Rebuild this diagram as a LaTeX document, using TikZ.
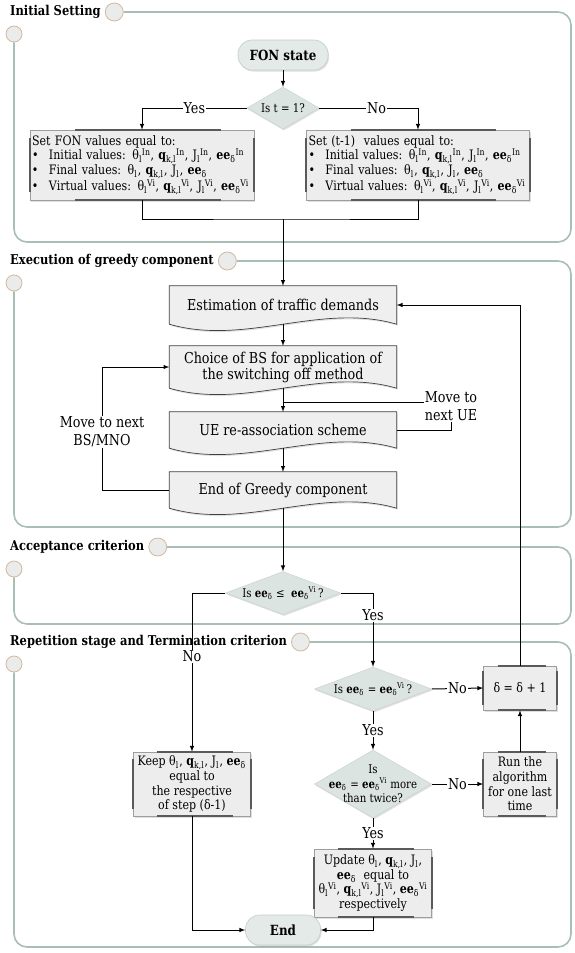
\documentclass[tikz,border=0pt]{standalone}
\usepackage{fontspec}
\setmainfont{DejaVu Serif}[FakeStretch=0.85]
\usepackage{tikz}
\tikzset{>=latex}
\usetikzlibrary{shapes.geometric,shadows,calc}

\definecolor{frameC}{HTML}{A9BFB6}
\definecolor{ringFill}{HTML}{E9ECEB}
\definecolor{ringEdge}{HTML}{D4B89E}
\definecolor{pillFill}{HTML}{E3EAE7}
\definecolor{pillEdge}{HTML}{C2CEC9}
\definecolor{diaFill}{HTML}{DCE4E1}
\definecolor{diaEdge}{HTML}{C9D3CF}
\definecolor{procFill}{HTML}{EDEDED}
\definecolor{procEdge}{HTML}{9E9E9E}
\definecolor{procBar}{HTML}{5A5A5A}
\definecolor{docFill}{HTML}{EFEFEF}
\definecolor{docEdge}{HTML}{404040}

\pgfdeclarelayer{background}
\pgfsetlayers{background,main}

\tikzset{
  softshadow/.style={drop shadow={opacity=.25,shadow xshift=1pt,shadow yshift=-1.5pt}},
  stagetitle/.style={font=\fontsize{13.5}{15}\selectfont\bfseries, inner sep=0pt},
  ring/.style={circle, draw=ringEdge, fill=ringFill, line width=.8pt, inner sep=0pt},
  frameline/.style={draw=frameC, line width=1.6pt},
  pill/.style={rectangle, rounded corners=14pt, draw=pillEdge, fill=pillFill, line width=.6pt,
    softshadow, minimum height=30pt, font=\fontsize{14}{16}\selectfont\bfseries},
  decision/.style={diamond, draw=diaEdge, fill=diaFill, line width=.5pt, inner sep=0pt, softshadow},
  diatxt/.style={font=\fontsize{12}{14.5}\selectfont, align=center, inner sep=0pt},
  procbox/.style={rectangle, draw=procEdge, fill=procFill, line width=.6pt, softshadow,
    align=center, inner sep=2pt, font=\fontsize{13}{14.7}\selectfont},
  setbox/.style={procbox, align=left, text width=220pt, minimum height=70pt,
    font=\fontsize{13}{13.4}\selectfont},
  procbar/.style={draw=procBar, line width=2pt},
  docbox/.style={rectangle, minimum width=227pt, align=center, inner sep=0pt,
    font=\fontsize{15}{16}\selectfont},
  docline/.style={draw=docEdge, fill=docFill, line width=.7pt, softshadow},
  flow/.style={line width=1pt},
  lbl/.style={font=\fontsize{15}{18}\selectfont, fill=white, inner sep=1pt},
  move/.style={font=\fontsize{15}{18}\selectfont, align=center, inner sep=1pt}
}

\begin{document}
\begin{tikzpicture}[x=1pt,y=-1pt]
  \useasboundingbox (0,0) rectangle (574,953);

  % help functions
  \def\thl#1{θ\textsubscript{l}\textsuperscript{#1}}
  \def\qkl#1{\textbf{q}\textsubscript{k,l}\textsuperscript{#1}}
  \def\Jl#1{J\textsubscript{l}\textsuperscript{#1}}
  \def\eed#1{\textbf{ee}\textsubscript{δ}\textsuperscript{#1}}
  \def\bul{\makebox[17pt][l]{\textbullet}}

        % Stage frame with title, two rings and rounded border
  \def\stageFrame(#1,#2,#3,#4){
    \node[stagetitle, anchor=west] (#1) at (10,#3) {#2};
    \node[ring, minimum size=18pt, anchor=west] (#1ring) at ([xshift=4pt]#1.east) {};
    \node[ring, minimum size=16pt] (#1dot) at (14,#3+22) {};
    \draw[frameline, rounded corners=13pt] (#1ring.east) -- (571,#3) -- (571,#4) -- (14,#4) -- (#1dot.south);
  }
        % Wavy document outline behind a node
  \def\docOutline(#1){
    \begin{pgfonlayer}{background}
      \filldraw[docline] (#1.south west) -- (#1.north west) -- (#1.north east) -- (#1.south east)
        .. controls +(-76,-22) and +(76,22) .. (#1.south west) -- cycle;
    \end{pgfonlayer}
  }
        % Dark bars on the edges of a process box
  \def\procBars(#1){
    \draw[procbar] ($(#1.north west)!.2!(#1.north east)$) -- ($(#1.north west)!.85!(#1.north east)$)
                   ($(#1.south west)!.2!(#1.south east)$) -- ($(#1.south west)!.85!(#1.south east)$)
                   ($(#1.north west)!.12!(#1.south west)$) -- ($(#1.north west)!.88!(#1.south west)$)
                   ($(#1.north east)!.12!(#1.south east)$) -- ($(#1.north east)!.88!(#1.south east)$);
  }

  % STAGES
    \stageFrame(init,Initial Setting,12,242)
    \stageFrame(greedy,Execution of greedy component,261,527)
    \stageFrame(accept,Acceptance criterion,547,624)
    \stageFrame(repeat,Repetition stage and Termination criterion,642,947)

  % INITIAL SETTING
    \node[pill, minimum width=90pt] (fon) at (283,55) {FON state};
    \node[decision, minimum width=72pt, minimum height=42pt,
      label={[diatxt]center:Is t = 1?}] (isT) at (283,108) {};
    \node[setbox] (setA) at (142,165) {Set FON values equal to:\\
      \bul Initial values: \thl{In}, \qkl{In}, \Jl{In}, \eed{In}\\
      \bul Final values: \thl{}, \qkl{}, \Jl{}, \eed{}\\
      \bul Virtual values: \thl{Vi}, \qkl{Vi}, \Jl{Vi}, \eed{Vi}};
    \node[setbox, text width=219pt] (setB) at (418,165) {Set (t-1)\ \ values equal to:\\
      \bul Initial values: \thl{In}, \qkl{In}, \Jl{In}, \eed{In}\\
      \bul Final values: \thl{}, \qkl{}, \Jl{}, \eed{}\\
      \bul Virtual values: \thl{Vi}, \qkl{Vi}, \Jl{Vi}, \eed{Vi}};
    \procBars(setA)
    \procBars(setB)
    \coordinate (merge) at (283,219);

    \draw[->,flow] (fon.south) -- (isT.north);
    \draw[->,flow] (isT.west) -| (setA.north) node[lbl,pos=.25] {Yes};
    \draw[->,flow] (isT.east) -| (setB.north) node[lbl,pos=.29] {No};
    \draw[flow] (setA.south) |- (merge) -| (setB.south);

  % GREEDY COMPONENT
    \node[docbox, minimum height=38pt] (est) at (283,305) {Estimation of traffic demands};
    \node[docbox, minimum height=42pt] (choice) at (283,367) {Choice of BS for application of\\the switching off method};
    \node[docbox, minimum height=36pt] (ue) at (283,430) {UE re-association scheme};
    \node[docbox, minimum height=36pt] (eog) at (283,490) {End of Greedy component};
    \docOutline(est)
    \docOutline(choice)
    \docOutline(ue)
    \docOutline(eog)
    \node[move] (mvUE) at (451,406) {Move to\\next UE};
    \node[move] (mvBS) at (102,432) {Move to next\\BS/MNO};
    \coordinate (ueIn) at ([yshift=4pt]mvUE.west);

    \draw[->,flow] (merge) -- (est.north);
    \draw[->,flow] (est.south) -- (choice.north);
    \draw[->,flow] (choice.south) -- (ue.north);
    \draw[->,flow] (ue.south) -- (eog.north);
    \draw[flow] (ue.east) -| (mvUE.south);
    \draw[flow] (ueIn) -- (ueIn -| ue.north);
    \draw[flow] (eog.west) -| (mvBS.south);
    \draw[->,flow] (mvBS.north) |- (choice.west);

  % ACCEPTANCE
    \node[decision, minimum width=115pt, minimum height=43pt,
      label={[diatxt]center:Is \eed{} ≤\ \ \eed{Vi}\,?}] (isLe) at (283,593) {};
    \draw[->,flow] (eog.south) -- (isLe.north);

  % REPETITION AND TERMINATION
    \node[decision, minimum width=117pt, minimum height=44pt,
      label={[diatxt]center:Is \eed{} = \eed{Vi}\,?}] (isEq) at (373,689) {};
    \node[procbox, minimum width=73pt, minimum height=44pt] (delta) at (520,688) {δ = δ + 1};
    \node[decision, minimum width=117pt, minimum height=68pt,
      label={[diatxt]center:Is\\\eed{} = \eed{Vi} more\\than twice?}] (isTw) at (373,784) {};
    \node[procbox, minimum width=73pt, minimum height=64pt] (runN) at (520,784) {Run the\\algorithm\\for one last\\time};
    \node[procbox, minimum width=117pt, minimum height=64pt] (keep) at (192,784) {Keep \thl{}, \qkl{}, \Jl{}, \eed{}\\equal to\\the respective\\of step (δ-1)};
    \node[procbox, minimum width=117pt, minimum height=68pt] (upd) at (373,883) {Update \thl{}, \qkl{}, \Jl{},\\\eed{}\ \ equal to\\\thl{Vi}, \qkl{Vi}, \Jl{Vi}, \eed{Vi}\\respectively};
    \node[pill, minimum width=75pt] (endN) at (283,930) {End};
    \procBars(delta)
    \procBars(runN)
    \procBars(keep)
    \procBars(upd)

    \draw[->,flow] (isLe.west) -| (keep.north) node[lbl,pos=.7] {No};
    \draw[->,flow] (isLe.east) -| (isEq.north) node[lbl,pos=.65] {Yes};
    \draw[->,flow] (isEq.east) -- (delta.west) node[lbl,midway] {No};
    \draw[->,flow] (delta.north) |- (est.east);
    \draw[->,flow] (isEq.south) -- (isTw.north) node[lbl,midway] {Yes};
    \draw[->,flow] (isTw.east) -- (runN.west) node[lbl,midway] {No};
    \draw[->,flow] (runN.north) -- (delta.south);
    \draw[->,flow] (isTw.south) -- (upd.north) node[lbl,midway] {Yes};
    \draw[->,flow] (keep.south) |- (endN.west);
    \draw[->,flow] (upd.south) |- (endN.east);

\end{tikzpicture}
\end{document}
